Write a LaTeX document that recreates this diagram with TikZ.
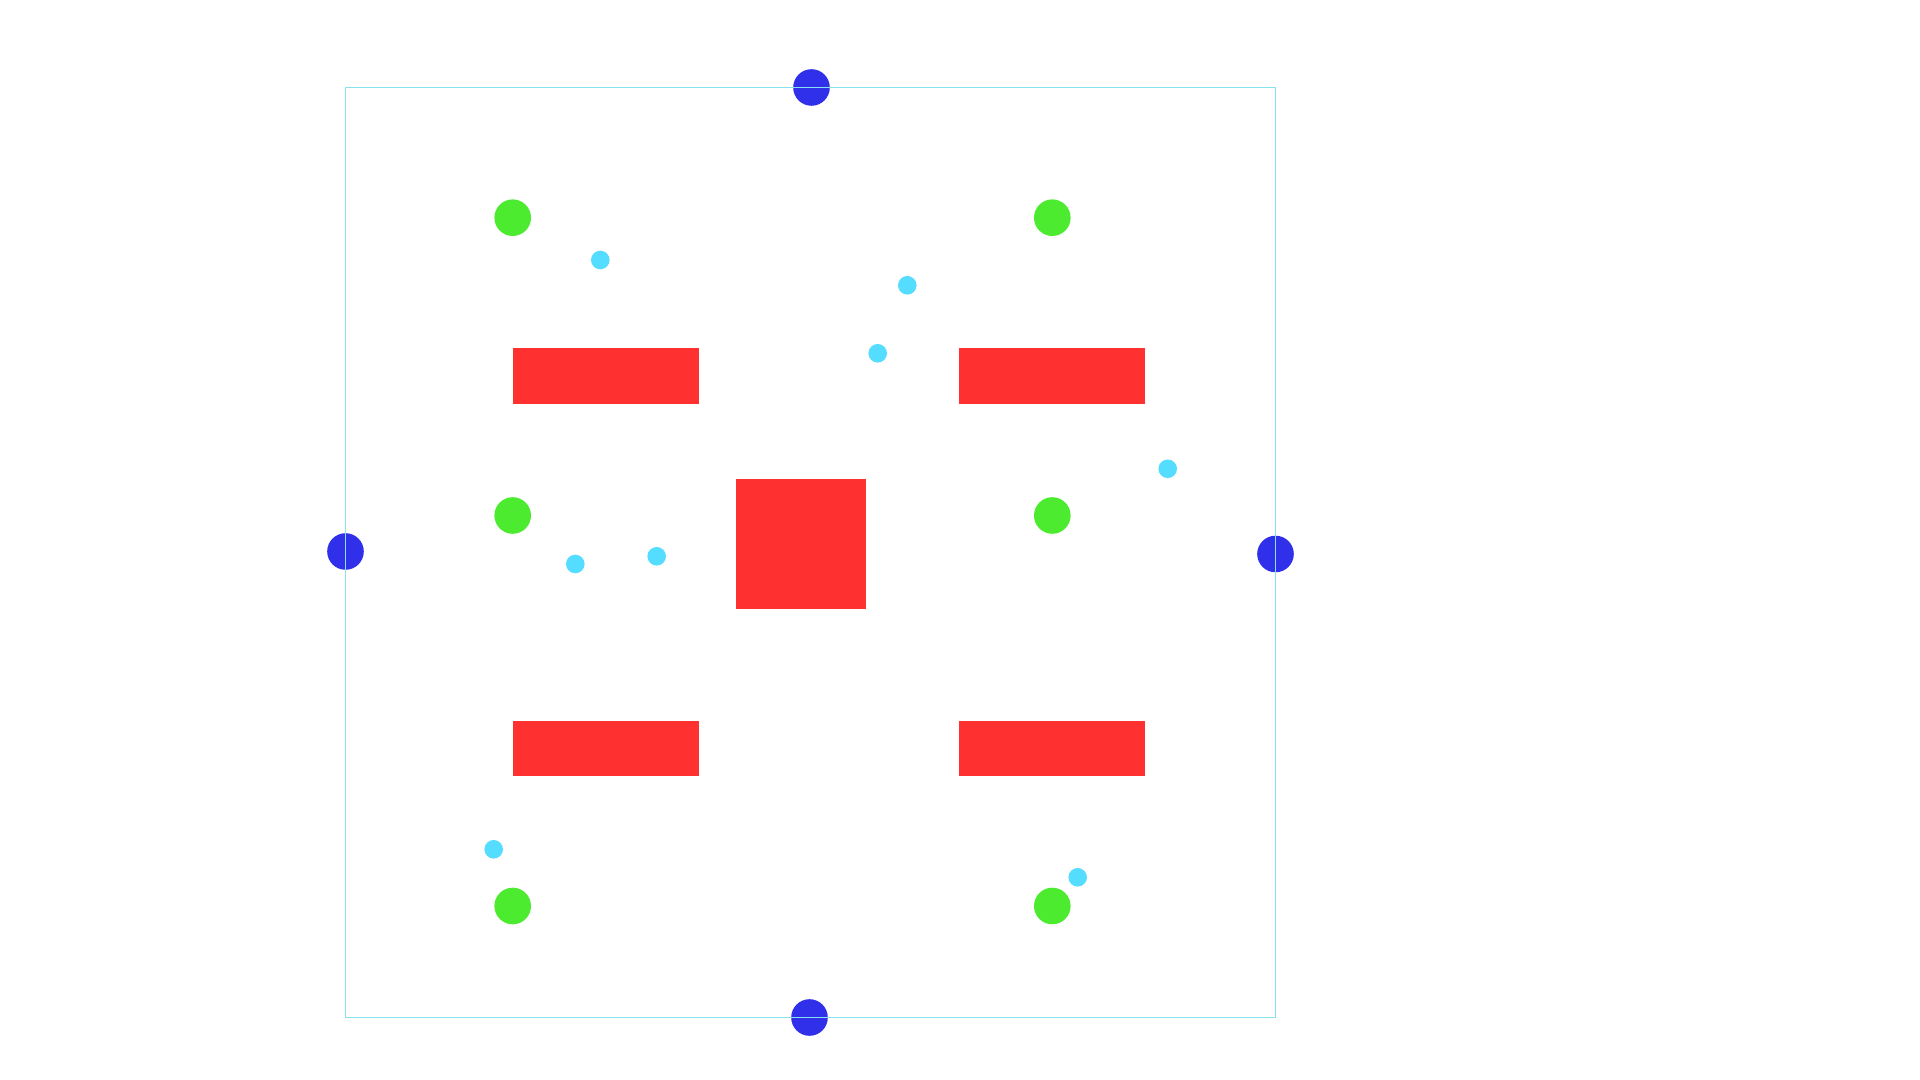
\documentclass[tikz,border=0pt]{standalone}
\usepackage{tikz}
\usetikzlibrary{positioning}

\definecolor{dotblue}{HTML}{3030EA}
\definecolor{dotgreen}{HTML}{4CEB30}
\definecolor{blockred}{HTML}{FF3030}
\definecolor{dotcyan}{HTML}{55DDFF}
\definecolor{framecyan}{HTML}{88E2EE}

\begin{document}
\begin{tikzpicture}[x=0.01cm, y=-0.01cm,
    bluedot/.style={circle, fill=dotblue, inner sep=0pt, outer sep=0pt, minimum size=0.366cm},
    greendot/.style={circle, fill=dotgreen, inner sep=0pt, outer sep=0pt, minimum size=0.366cm},
    cyandot/.style={circle, fill=dotcyan, inner sep=0pt, outer sep=0pt, minimum size=0.186cm},
    redblock/.style={rectangle, fill=blockred, inner sep=0pt, outer sep=0pt, minimum width=1.857cm, minimum height=0.554cm},
    redsquare/.style={rectangle, fill=blockred, inner sep=0pt, outer sep=0pt, minimum size=1.30cm}]
      \useasboundingbox (0,0) rectangle (1920,1080);
      % blocks
      \node[redblock] (blockTL) at (605.8,376) {};
      \node[redblock] (blockTR) at (1052.2,376) {};
      \node[redblock] (blockBL) at (605.8,748.5) {};
      \node[redblock] (blockBR) at (1052.2,748.5) {};
      \node[redsquare] (core) at (801,543.6) {};
      % green dots
      \node[greendot] (gTL) at (512.7,217.7) {};
      \node[greendot] (gTR) at (1052.3,217.7) {};
      \node[greendot] (gML) at (512.7,515.5) {};
      \node[greendot] (gMR) at (1052.3,515.5) {};
      \node[greendot] (gBL) at (512.7,906) {};
      \node[greendot] (gBR) at (1052.3,906) {};
      % cyan dots
      \node[cyandot] (c1) at (600.3,260) {};
      \node[cyandot] (c2) at (907.3,285.3) {};
      \node[cyandot] (c3) at (877.7,353.3) {};
      \node[cyandot] (c4) at (1167.7,468.8) {};
      \node[cyandot] (c5) at (575.3,564) {};
      \node[cyandot] (c6) at (656.7,556.3) {};
      \node[cyandot] (c7) at (493.7,849.3) {};
      \node[cyandot] (c8) at (1077.7,877.3) {};
      % blue dots on the frame
      \node[bluedot] (bTop) at (811.5,87.5) {};
      \node[bluedot] (bLeft) at (345.5,551.5) {};
      \node[bluedot] (bRight) at (1275.5,554) {};
      \node[bluedot] (bBottom) at (809.5,1017.5) {};
      % frame
      \draw[framecyan, line width=0.4pt] (345.5,87.3) rectangle (1275.5,1017.3);
\end{tikzpicture}
\end{document}
